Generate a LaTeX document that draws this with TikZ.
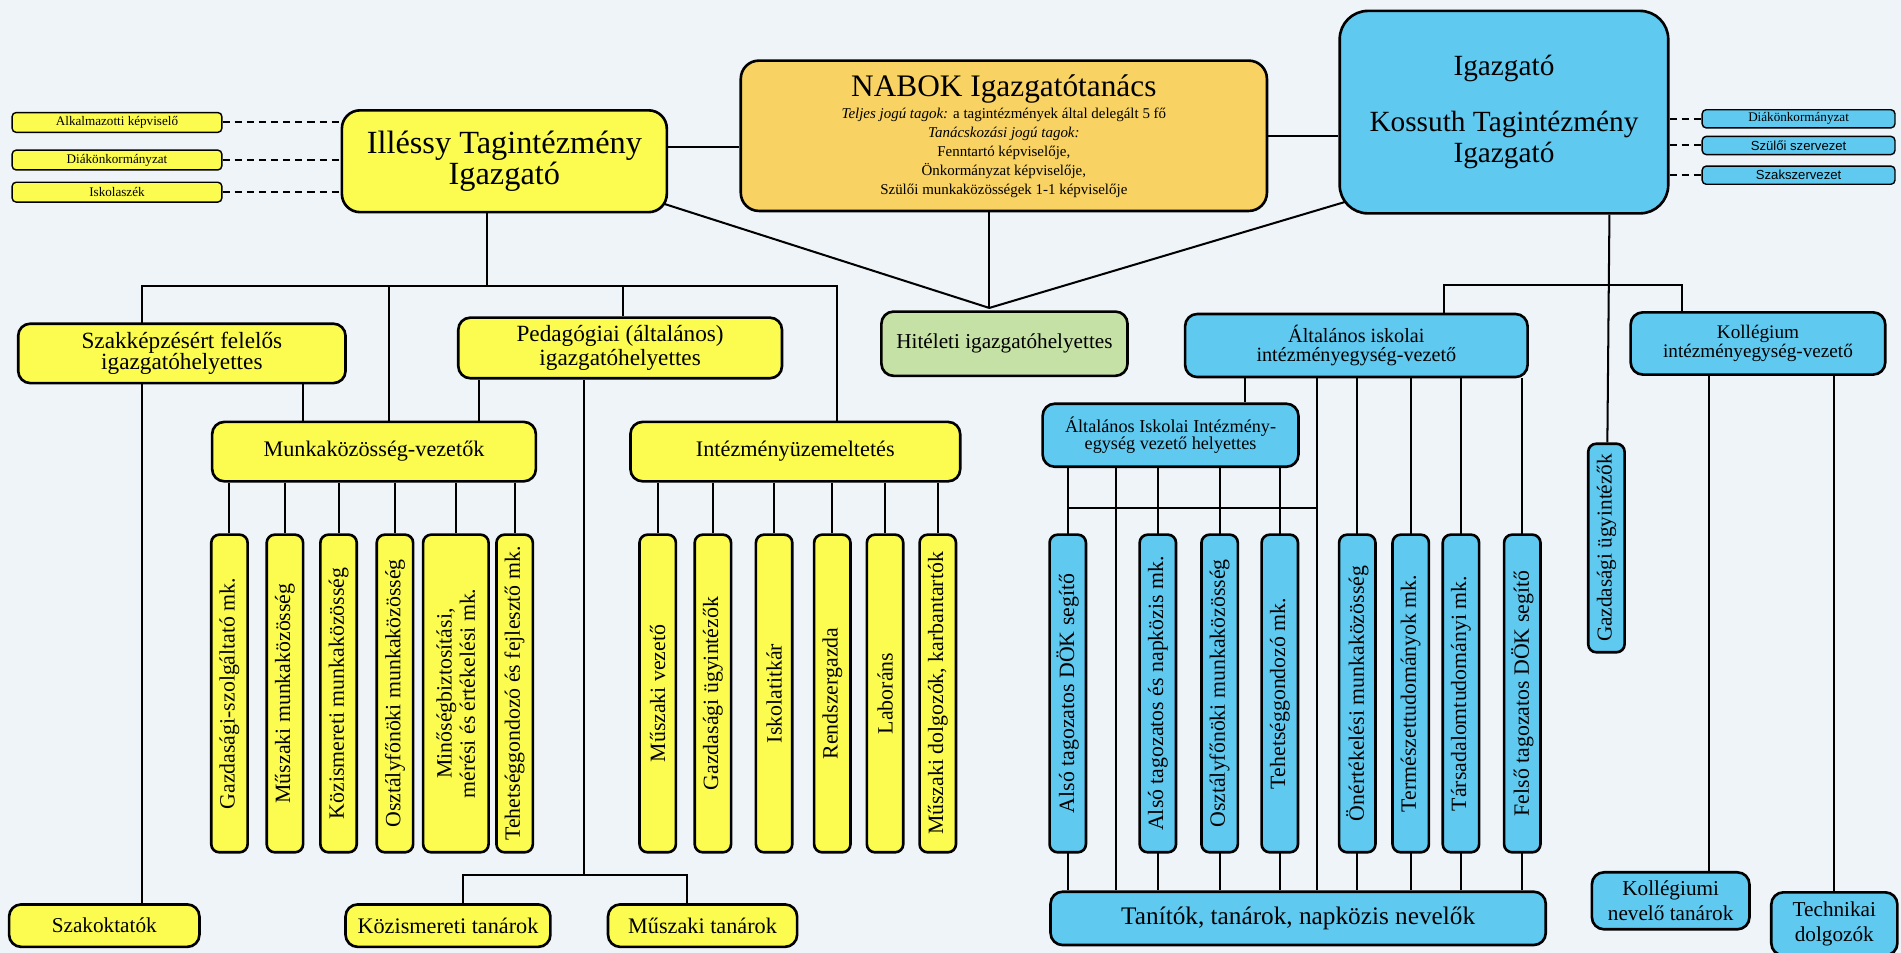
\documentclass[tikz,border=0pt]{standalone}
\usepackage{fontspec}
\setmainfont{Liberation Serif}
\setsansfont{Liberation Sans}
\usetikzlibrary{calc}
\pgfdeclarelayer{bg}
\pgfsetlayers{bg,main}
\definecolor{nyel}{HTML}{FCFC50}
\definecolor{nblu}{HTML}{5FC9F0}
\definecolor{norg}{HTML}{F8D262}
\definecolor{ngrn}{HTML}{C5E1A5}
\definecolor{nbg}{HTML}{EFF4F9}

\tikzset{
  box/.style={draw, line width=1.3pt, rounded corners=6pt, align=center, inner sep=2pt},
  yel/.style={box, fill=nyel},
  blu/.style={box, fill=nblu},
  side/.style={draw, line width=0.7pt, rounded corners=2pt, minimum width=103.8pt, minimum height=9.8pt, inner sep=0pt, font=\fontsize{6.5}{7}\selectfont},
  vbox/.style={rotate=90, minimum width=157.2pt, minimum height=18pt, inner sep=1pt, rounded corners=4pt, font=\fontsize{10.8}{11.5}\selectfont},
  link/.style={line width=1pt},
  dline/.style={line width=1pt, dash pattern=on 3.5pt off 2.5pt}
}

\begin{document}
\begin{tikzpicture}[x=0.6pt, y=-0.6pt, font=\fontsize{10.5}{11.5}\selectfont]
  \useasboundingbox (0,0) rectangle (1568,786);

  \node[side, fill=nyel] (alk) at (96.5,101) {Alkalmazotti képviselő};
  \node[side, fill=nyel] (diak1) at (96.5,132) {Diákönkormányzat};
  \node[side, fill=nyel] (isk) at (96.5,158.5) {Iskolaszék};
  \node[yel, minimum width=160.8pt, minimum height=50.4pt, rounded corners=9pt, font=\fontsize{16}{14}\selectfont] (illessy) at (416,133) {Illéssy Tagintézmény\\Igazgató};
  \node[box, fill=norg, minimum width=260.4pt, minimum height=74.4pt, rounded corners=9pt, font=\fontsize{7.4}{9.3}\selectfont] (nabok) at (828,112)
    {{\fontsize{15.5}{16}\selectfont NABOK Igazgatótanács}\\[2pt]\textit{Teljes jogú tagok:} a tagintézmények által delegált 5 fő\\\textit{Tanácskozási jogú tagok:}\\Fenntartó képviselője,\\Önkormányzat képviselője,\\Szülői munkaközösségek 1-1 képviselője};
  \node[blu, minimum width=162.6pt, minimum height=100.2pt, rounded corners=14pt, font=\fontsize{14.5}{15.5}\selectfont] (kossuth) at (1240.5,92.5) {Igazgató\\[12pt]Kossuth Tagintézmény\\Igazgató};
  \node[side, fill=nblu, minimum width=95.4pt, minimum height=9pt] (diak2) at (1483.5,98) {Diákönkormányzat};
  \node[side, fill=nblu, minimum width=95.4pt, minimum height=9pt, font=\sffamily\fontsize{6.5}{7}\selectfont] (szulo) at (1483.5,120) {Szülői szervezet};
  \node[side, fill=nblu, minimum width=95.4pt, minimum height=9pt, font=\sffamily\fontsize{6.5}{7}\selectfont] (szaksz) at (1483.5,144.5) {Szakszervezet};

  \node[yel, minimum width=162pt, minimum height=29.4pt, font=\fontsize{11.5}{10.5}\selectfont] (szakk) at (150,291.5) {Szakképzésért felelős\\igazgatóhelyettes};
  \node[yel, minimum width=160.2pt, minimum height=30pt, font=\fontsize{11.5}{10}\selectfont] (pedag) at (511.5,287) {Pedagógiai (általános)\\igazgatóhelyettes};
  \node[box, fill=ngrn, minimum width=121.8pt, minimum height=31.8pt] (hitelet) at (828.5,283.5) {Hitéleti igazgatóhelyettes};
  \node[blu, minimum width=169.5pt, minimum height=31.2pt, font=\fontsize{10}{9.5}\selectfont] (altisk) at (1118.75,285) {Általános iskolai\\intézményegység-vezető};
  \node[blu, minimum width=126pt, minimum height=30.8pt, font=\fontsize{9.5}{9.5}\selectfont] (koll) at (1450,283.3) {Kollégium\\intézményegység-vezető};
  \node[yel, minimum width=160.2pt, minimum height=29.4pt, font=\fontsize{11}{12}\selectfont] (munka) at (308.5,372.5) {Munkaközösség-vezetők};
  \node[yel, minimum width=163.2pt, minimum height=29.4pt, font=\fontsize{11}{12}\selectfont] (intezm) at (656,372.5) {Intézményüzemeltetés};
  \node[blu, minimum width=126.6pt, minimum height=31.2pt, font=\fontsize{9}{8.5}\selectfont] (helyettes) at (965.5,359) {Általános Iskolai Intézmény-\\egység vezető helyettes};

  \node[yel, vbox] (g1) at (189.25,572) {Gazdasági-szolgáltató mk.};
  \node[yel, vbox] (g2) at (235,572) {Műszaki munkaközösség};
  \node[yel, vbox] (g3) at (279.25,572) {Közismereti munkaközösség};
  \node[yel, vbox] (g4) at (325.75,572) {Osztályfőnöki munkaközösség};
  \node[yel, vbox, minimum height=32.4pt] (g5) at (376,572) {Minőségbiztosítási,\\mérési és értékelési mk.};
  \node[yel, vbox] (g6) at (424.5,572) {Tehetséggondozó és fejlesztő mk.};
  \node[yel, vbox] (i1) at (542.5,572) {Műszaki vezető};
  \node[yel, vbox] (i2) at (588,572) {Gazdasági ügyintézők};
  \node[yel, vbox] (i3) at (638.5,572) {Iskolatitkár};
  \node[yel, vbox] (i4) at (686.5,572) {Rendszergazda};
  \node[yel, vbox] (i5) at (730,572) {Laboráns};
  \node[yel, vbox] (i6) at (773.5,572) {Műszaki dolgozók, karbantartók};
  \node[blu, vbox] (adok) at (880.7,572) {Alsó tagozatos DÖK segítő};
  \node[blu, vbox] (anap) at (955,572) {Alsó tagozatos és napközis mk.};
  \node[blu, vbox] (oszt) at (1006,572) {Osztályfőnöki munkaközösség};
  \node[blu, vbox] (tehet) at (1055.6,572) {Tehetséggondozó mk.};
  \node[blu, vbox] (onert) at (1119.5,572) {Önértékelési munkaközösség};
  \node[blu, vbox] (termesz) at (1163.6,572) {Természettudományok mk.};
  \node[blu, vbox] (tarsad) at (1205,572) {Társadalomtudományi mk.};
  \node[blu, vbox] (felso) at (1255.6,572) {Felső tagozatos DÖK segítő};
  \node[blu, vbox, minimum width=103.2pt, font=\fontsize{10.5}{11.5}\selectfont] (gazd) at (1325,452) {Gazdasági ügyintézők};

  \node[yel, minimum width=94.2pt, minimum height=21pt] (szakokt) at (86,763.5) {Szakoktatók};
  \node[yel, minimum width=101.4pt, minimum height=21pt, font=\fontsize{11}{12}\selectfont] (kozism) at (369.5,763.5) {Közismereti tanárok};
  \node[yel, minimum width=93.6pt, minimum height=21pt, font=\fontsize{11}{12}\selectfont] (muszt) at (579.5,763.5) {Műszaki tanárok};
  \node[blu, minimum width=245.1pt, minimum height=26.4pt, font=\fontsize{12.5}{14}\selectfont] (tanitok) at (1070.75,757.5) {Tanítók, tanárok, napközis nevelők};
  \node[blu, minimum width=78pt, minimum height=28.2pt, font=\fontsize{10.5}{12}\selectfont] (kollnev) at (1378,743) {Kollégiumi\\nevelő tanárok};
  \node[blu, minimum width=62.4pt, minimum height=31.2pt, font=\fontsize{10.5}{12}\selectfont] (techn) at (1513,762) {Technikai\\dolgozók};

  \coordinate (hj) at (816,254);
  \coordinate (itr) at (402,236);
  \coordinate (d1) at (117,236);
  \coordinate (d2) at (321,236);
  \coordinate (d3) at (514,236);
  \coordinate (d4) at (690,236);
  \coordinate (c1) at (250,0);
  \coordinate (c2) at (395,0);
  \coordinate (c3) at (482,0);
  \coordinate (pl) at (382,722);
  \coordinate (pr) at (567,722);
  \coordinate (c4) at (1327.5,0);
  \coordinate (kb1) at (1191,235);
  \coordinate (kb2) at (1387,235);
  \coordinate (c5) at (1027,0);
  \coordinate (c6) at (920.5,0);
  \coordinate (c7) at (1086,0);
  \coordinate (hl) at (0,419);
  \coordinate (c8) at (1410,0);

  \begin{pgfonlayer}{bg}
    \fill[nbg] (0,0) rectangle (1568,786);
    \foreach \n in {alk,diak1,isk}
      \draw[dline] (\n.east) -- (\n.east -| illessy.west);
    \foreach \n in {diak2,szulo,szaksz}
      \draw[dline] (\n.west -| kossuth.east) -- (\n.west);
    \draw[link] (illessy.5) -- (illessy.5 -| nabok.west);
    \draw[link] (nabok.east) -- (nabok.east -| kossuth.west);
    \draw[link] ($(hj)!1.08!(illessy.-15.4)$) -- (hj) -- ($(hj)!1.05!(kossuth.209.4)$);
    \draw[link] (nabok.south -| hj) -- (hj);
    \draw[link] (illessy.south -| itr) -- (itr);
    \draw[link] (d1 |- szakokt.north) -- (d1) -- (d4) -- (d4 |- intezm.north);
    \draw[link] (d2) -- (d2 |- munka.north);
    \draw[link] (d3) -- (d3 |- pedag.north);
    \draw[link] (szakk.south -| c1) -- (munka.north -| c1);
    \draw[link] (pedag.south -| c2) -- (munka.north -| c2);
    \draw[link] (pedag.south -| c3) -- (c3 |- pl);
    \draw[link] (kozism.north -| pl) -- (pl) -- (pr) -- (muszt.north -| pr);
    \foreach \n in {g1,g2,g3,g4,g5,g6}
      \draw[link] (munka.south -| \n) -- (\n);
    \foreach \n in {i1,i2,i3,i4,i5,i6}
      \draw[link] (intezm.south -| \n) -- (\n);
    \draw[link] (kossuth.south -| c4) -- (gazd);
    \draw[link] (kb1 |- altisk.north) -- (kb1) -- (kb2) -- (kb2 |- koll.north);
    \draw[link] (altisk.south -| c5) -- (helyettes.north -| c5);
    \foreach \n in {adok,anap,oszt,tehet,c6}
      \draw[link] (helyettes.south -| \n) -- (tanitok.north -| \n);
    \foreach \n in {c7,onert,termesz,tarsad,felso}
      \draw[link] (altisk.south -| \n) -- (tanitok.north -| \n);
    \draw[link] (hl -| adok) -- (hl -| c7);
    \draw[link] (koll.south -| c8) -- (kollnev.north -| c8);
    \draw[link] (koll.south -| techn) -- (techn.north);
  \end{pgfonlayer}
\end{tikzpicture}
\end{document}
